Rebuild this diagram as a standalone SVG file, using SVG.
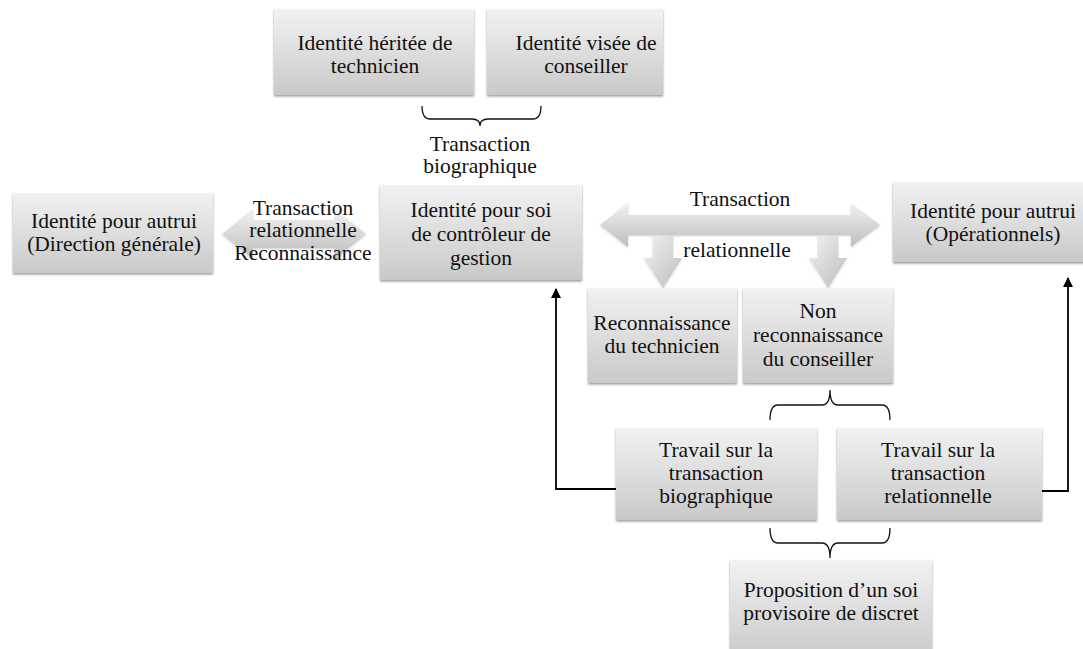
<svg xmlns="http://www.w3.org/2000/svg" width="1083" height="649" viewBox="0 0 1083 649" font-family="'Liberation Serif', Tinos, 'Times New Roman', Times, 'DejaVu Serif', serif">
<style>
text{font-family:'Liberation Serif',Tinos,'Times New Roman',Times,'DejaVu Serif',serif;font-size:21.5px;fill:#111;text-anchor:middle}
.box{fill:url(#gBox);filter:url(#sh)}
.blk{fill:url(#gArr);filter:url(#sh2)}
.brk{fill:none;stroke:#111;stroke-width:1.3}
.con{fill:none;stroke:#000;stroke-width:1.8;marker-end:url(#ah)}
</style>
<defs>
<linearGradient id="gBox" x1="0" y1="0" x2="0" y2="1">
<stop offset="0" stop-color="#f2f2f2"/>
<stop offset="1" stop-color="#c9c9c9"/>
</linearGradient>
<linearGradient id="gArr" x1="0" y1="0" x2="0" y2="1">
<stop offset="0" stop-color="#f2f2f2"/>
<stop offset="1" stop-color="#bdbdbd"/>
</linearGradient>
<linearGradient id="gDn" x1="0" y1="0" x2="1" y2="1">
<stop offset="0" stop-color="#f2f2f2"/>
<stop offset="1" stop-color="#bdbdbd"/>
</linearGradient>
<filter id="sh" x="-5%" y="-5%" width="110%" height="115%">
<feDropShadow dx="0" dy="1.5" stdDeviation="1.2" flood-color="#000" flood-opacity="0.4"/>
</filter>
<filter id="sh2" x="-5%" y="-10%" width="110%" height="125%">
<feDropShadow dx="0" dy="1" stdDeviation="1" flood-color="#000" flood-opacity="0.2"/>
</filter>
<marker id="ah" markerWidth="10" markerHeight="10" refX="9" refY="5" orient="auto" markerUnits="userSpaceOnUse">
<path d="M0,0 L10,5 L0,10 Z" fill="#000"/>
</marker>
</defs>

<g id="connectors">
<path class="con" d="M616,489 H556 V289"/>
<path class="con" d="M1042,491 H1068 V278"/>
<path class="brk" d="M422,106 Q422,119 430,119 L472,119 Q480,119 480,126 Q480,119 488,119 L533,119 Q541,119 541,106"/>
<path class="brk" d="M770,420 Q770,405 778,405 L822,405 Q830,405 830,390 Q830,405 838,405 L882,405 Q890,405 890,420"/>
<path class="brk" d="M770,528 Q770,543 778,543 L822,543 Q830,543 830,558 Q830,543 838,543 L882,543 Q890,543 890,528"/>
</g>

<g id="arrow-left">
<path class="blk" d="M222,234 L253,209 L253,220 L335,220 L335,209 L366,234 L335,259 L335,248 L253,248 L253,259 Z"/>
</g>
<g id="arrow-right">
<path class="blk" d="M600,225 L628,203 L628,215 L851,215 L851,203 L880,225 L851,247 L851,235 L628,235 L628,247 Z"/>
</g>
<g id="arrow-down-1">
<path class="blk" style="fill:url(#gDn)" d="M653,236 L673,236 L673,258 L682,258 L663,288 L644,258 L653,258 Z"/>
</g>
<g id="arrow-down-2">
<path class="blk" style="fill:url(#gDn)" d="M818,236 L838,236 L838,258 L847,258 L828,288 L809,258 L818,258 Z"/>
</g>

<g id="lbl-bio">
<text x="480" y="151">Transaction</text>
<text x="480" y="173">biographique</text>
</g>
<g id="lbl-rel-left">
<text x="303" y="215">Transaction</text>
<text x="303" y="237">relationnelle</text>
<text x="303" y="260">Reconnaissance</text>
</g>
<g id="lbl-rel-right">
<text x="740" y="206">Transaction</text>
<text x="737" y="257">relationnelle</text>
</g>

<g id="n-heritee">
<rect class="box" x="274" y="9" width="200" height="86"/>
<text x="375" y="49.5">Identité héritée de</text>
<text x="375" y="72.5">technicien</text>
</g>
<g id="n-visee">
<rect class="box" x="487" y="9" width="176" height="86"/>
<text x="586" y="49.5">Identité visée de</text>
<text x="586" y="72.5">conseiller</text>
</g>
<g id="n-direction">
<rect class="box" x="13" y="193" width="200" height="80"/>
<text x="114" y="227.5">Identité pour autrui</text>
<text x="114" y="250.5">(Direction générale)</text>
</g>
<g id="n-soi">
<rect class="box" x="380" y="185" width="202" height="95"/>
<text x="481" y="217">Identité pour soi</text>
<text x="481" y="241">de contrôleur de</text>
<text x="481" y="265">gestion</text>
</g>
<g id="n-operationnels">
<rect class="box" x="893" y="182" width="200" height="80"/>
<text x="993" y="218">Identité pour autrui</text>
<text x="993" y="241">(Opérationnels)</text>
</g>
<g id="n-reco">
<rect class="box" x="588" y="288" width="149" height="95"/>
<text x="662" y="330">Reconnaissance</text>
<text x="662" y="353">du technicien</text>
</g>
<g id="n-nonreco">
<rect class="box" x="743" y="288" width="150" height="95"/>
<text x="818" y="318">Non</text>
<text x="818" y="342">reconnaissance</text>
<text x="818" y="366">du conseiller</text>
</g>
<g id="n-travail-bio">
<rect class="box" x="616" y="428" width="201" height="92"/>
<text x="716" y="456.5">Travail sur la</text>
<text x="716" y="479.5">transaction</text>
<text x="716" y="502.5">biographique</text>
</g>
<g id="n-travail-rel">
<rect class="box" x="837" y="428" width="205" height="92"/>
<text x="938" y="456.5">Travail sur la</text>
<text x="938" y="479.5">transaction</text>
<text x="938" y="502.5">relationnelle</text>
</g>
<g id="n-proposition">
<rect class="box" x="730" y="560" width="202" height="100"/>
<text x="831" y="597">Proposition d’un soi</text>
<text x="831" y="620">provisoire de discret</text>
</g>
</svg>
